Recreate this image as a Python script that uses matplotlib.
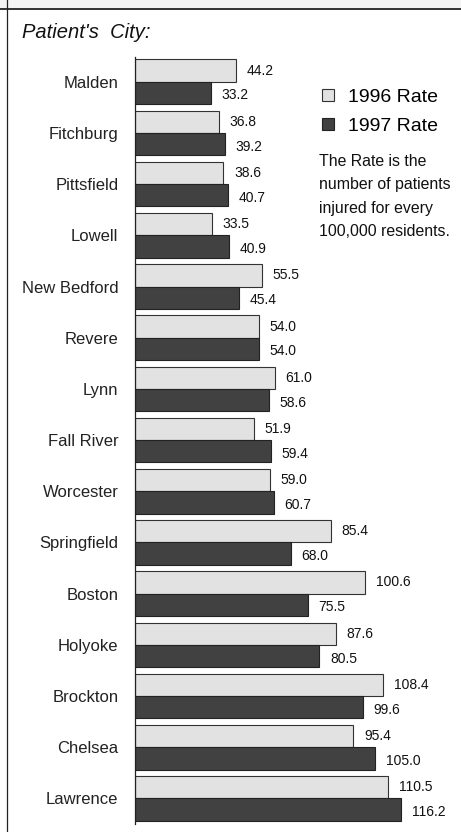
import numpy as np
import matplotlib
matplotlib.use("Agg")
import matplotlib.pyplot as plt
from matplotlib.patches import Patch
from matplotlib.lines import Line2D

# Data, top to bottom
cities = ["Malden", "Fitchburg", "Pittsfield", "Lowell", "New Bedford", "Revere",
          "Lynn", "Fall River", "Worcester", "Springfield", "Boston", "Holyoke",
          "Brockton", "Chelsea", "Lawrence"]
rate_1996 = [44.2, 36.8, 38.6, 33.5, 55.5, 54.0, 61.0, 51.9, 59.0, 85.4,
             100.6, 87.6, 108.4, 95.4, 110.5]
rate_1997 = [33.2, 39.2, 40.7, 40.9, 45.4, 54.0, 58.6, 59.4, 60.7, 68.0,
             75.5, 80.5, 99.6, 105.0, 116.2]

plt.rcParams['font.family'] = ['Liberation Sans', 'DejaVu Sans']

W, H = 461, 832
fig = plt.figure(figsize=(W / 100, H / 100), dpi=100)

# frame: grey strip on top, line under it, line on the left
fig.patches.append(plt.Rectangle((0, (H - 8) / H), 1, 8 / H, transform=fig.transFigure,
                                 facecolor="#f4f4f4", edgecolor="none", zorder=0))
fig.add_artist(Line2D([0, 1], [(H - 8.5) / H] * 2, transform=fig.transFigure,
                      color="#222222", lw=1.3))
fig.add_artist(Line2D([7 / W, 7 / W], [0, 1], transform=fig.transFigure,
                      color="#222222", lw=0.9))

ax = fig.add_axes([135 / W, 8 / H, (W - 135) / W, (824 - 57) / H])

y = np.arange(len(cities))
h = 0.436
light = "#e2e2e2"
dark = "#414141"

ax.barh(y - h / 2, rate_1996, height=h, color=light, edgecolor="#333333", linewidth=0.8)
ax.barh(y + h / 2, rate_1997, height=h, color=dark, edgecolor="#222222", linewidth=0.8)

for i in range(len(cities)):
    ax.text(rate_1996[i] + 4.6, y[i] - h / 2, f"{rate_1996[i]:.1f}", va="center",
            ha="left", fontsize=10, color="#111111")
    ax.text(rate_1997[i] + 4.6, y[i] + h / 2 + 0.05, f"{rate_1997[i]:.1f}", va="center",
            ha="left", fontsize=10, color="#111111")

ax.set_xlim(0, (W - 135) / 2.29)
ax.set_ylim(14.5, -0.484)
ax.set_yticks(y)
ax.set_yticklabels(cities, fontsize=12, color="#222222")
ax.tick_params(axis="y", length=0, pad=12)
ax.set_xticks([])
for s in ["top", "right", "bottom"]:
    ax.spines[s].set_visible(False)
ax.spines["left"].set_color("#222222")
ax.spines["left"].set_linewidth(0.9)

fig.text(22 / W, 1 - 33 / H, "Patient's  City:", fontsize=14.5, style="italic",
         va="center", ha="left", color="#111111")

handles = [Patch(facecolor=light, edgecolor="#333333", linewidth=0.8, label="1996 Rate"),
           Patch(facecolor=dark, edgecolor="#222222", linewidth=0.8, label="1997 Rate")]
fig.legend(handles=handles, loc="upper left", bbox_to_anchor=(322 / W, 1 - 89 / H),
           frameon=False, fontsize=14, handlelength=0.6, handleheight=0.6,
           handletextpad=0.75, labelspacing=0.6, borderaxespad=0, borderpad=0)

fig.text(319 / W, 1 - 154 / H,
         "The Rate is the\nnumber of patients\ninjured for every\n100,000 residents.",
         fontsize=11.4, va="top", ha="left", linespacing=1.7, color="#111111")

fig.savefig("out.png", dpi=100)
